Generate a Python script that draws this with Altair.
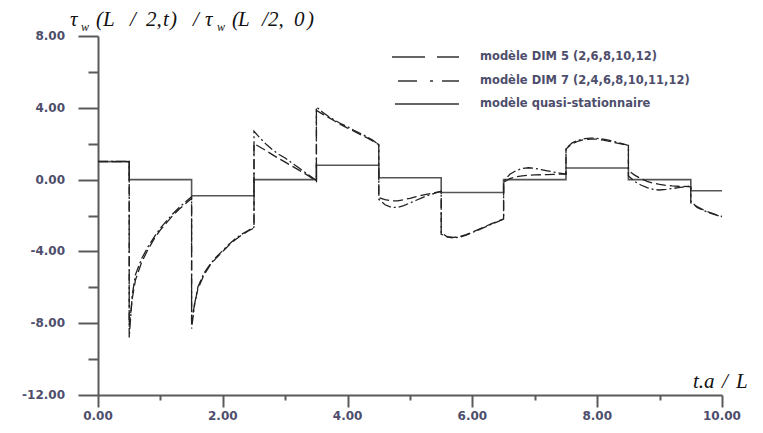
import altair as alt
import pandas as pd

# ---------------- data ----------------
t_dim = ([0.0, 0.5]
         + [0.5, 0.55, 0.6, 0.7, 0.8, 0.9, 1.0, 1.1, 1.2, 1.3, 1.4, 1.5]
         + [1.5, 1.55, 1.6, 1.7, 1.8, 1.9, 2.0, 2.1, 2.2, 2.3, 2.4, 2.5]
         + [2.5, 2.6, 2.7, 2.8, 2.9, 3.0, 3.1, 3.2, 3.3, 3.4, 3.5]
         + [3.5, 3.6, 3.7, 3.8, 3.9, 4.0, 4.1, 4.2, 4.3, 4.4, 4.5]
         + [4.5, 4.6, 4.7, 4.8, 4.9, 5.0, 5.1, 5.2, 5.3, 5.4, 5.5]
         + [5.5, 5.6, 5.7, 5.8, 5.9, 6.0, 6.1, 6.2, 6.3, 6.4, 6.5]
         + [6.5, 6.6, 6.7, 6.8, 6.9, 7.0, 7.1, 7.2, 7.3, 7.4, 7.5]
         + [7.5, 7.6, 7.7, 7.8, 7.9, 8.0, 8.1, 8.2, 8.3, 8.4, 8.5]
         + [8.5, 8.6, 8.7, 8.8, 8.9, 9.0, 9.1, 9.2, 9.3, 9.4, 9.5]
         + [9.5, 9.6, 9.7, 9.8, 9.9, 10.0])

dim5 = ([1.0, 1.0]
        + [-8.2, -6.6, -5.6, -4.6, -3.9, -3.3, -2.8, -2.4, -2.0, -1.65, -1.35, -1.05]
        + [-7.9, -6.9, -6.1, -5.3, -4.75, -4.35, -4.0, -3.65, -3.35, -3.1, -2.88, -2.7]
        + [2.0, 1.8, 1.6, 1.38, 1.17, 0.97, 0.77, 0.57, 0.37, 0.15, -0.1]
        + [3.85, 3.65, 3.45, 3.25, 3.05, 2.87, 2.7, 2.52, 2.35, 2.15, 1.95]
        + [-1.0, -1.12, -1.18, -1.18, -1.12, -1.04, -0.95, -0.87, -0.8, -0.72, -0.65]
        + [-3.05, -3.18, -3.22, -3.17, -3.07, -2.92, -2.77, -2.62, -2.47, -2.33, -2.2]
        + [-0.15, 0.05, 0.16, 0.21, 0.24, 0.26, 0.27, 0.28, 0.29, 0.3, 0.3]
        + [1.7, 2.0, 2.15, 2.23, 2.26, 2.25, 2.2, 2.13, 2.05, 1.97, 1.9]
        + [0.5, 0.25, 0.05, -0.1, -0.2, -0.27, -0.32, -0.35, -0.37, -0.38, -0.4]
        + [-1.3, -1.5, -1.68, -1.83, -1.95, -2.05])

dim7 = ([1.02, 1.02]
        + [-8.8, -6.4, -5.3, -4.4, -3.75, -3.2, -2.7, -2.3, -1.9, -1.55, -1.25, -0.95]
        + [-8.3, -6.9, -6.0, -5.2, -4.7, -4.3, -3.95, -3.6, -3.3, -3.05, -2.85, -2.65]
        + [2.7, 2.3, 1.95, 1.65, 1.4, 1.2, 0.95, 0.7, 0.45, 0.2, -0.05]
        + [4.05, 3.75, 3.5, 3.3, 3.1, 2.95, 2.75, 2.58, 2.4, 2.2, 1.95]
        + [-1.1, -1.4, -1.55, -1.55, -1.45, -1.3, -1.15, -1.0, -0.87, -0.75, -0.65]
        + [-2.95, -3.2, -3.25, -3.2, -3.1, -2.95, -2.8, -2.65, -2.5, -2.35, -2.2]
        + [-0.1, 0.3, 0.5, 0.62, 0.66, 0.63, 0.56, 0.49, 0.42, 0.36, 0.3]
        + [1.75, 2.05, 2.2, 2.28, 2.31, 2.3, 2.25, 2.18, 2.1, 2.0, 1.9]
        + [0.2, -0.1, -0.3, -0.45, -0.55, -0.58, -0.55, -0.5, -0.45, -0.4, -0.35]
        + [-1.2, -1.55, -1.72, -1.86, -1.97, -2.08])

t_quasi = [0.0, 0.5, 0.5, 1.5, 1.5, 2.5, 2.5, 3.5, 3.5, 4.5, 4.5,
           5.5, 5.5, 6.5, 6.5, 7.5, 7.5, 8.5, 8.5, 9.5, 9.5, 10.0]
quasi = [1.0, 1.0, 0.0, 0.0, -0.9, -0.9, 0.0, 0.0, 0.8, 0.8, 0.1,
         0.1, -0.72, -0.72, 0.0, 0.0, 0.65, 0.65, 0.0, 0.0, -0.62, -0.62]

legend_labels = ["modèle DIM 5 (2,6,8,10,12)",
                 "modèle DIM 7 (2,4,6,8,10,11,12)",
                 "modèle quasi-stationnaire"]

y_major = [-12, -8, -4, 0, 4, 8]
y_major_labels = ["-12.00", "-8.00", "-4.00", "0.00", "4.00", "8.00"]
y_minor = [-10, -6, -2, 2, 6]
x_major = [0, 2, 4, 6, 8, 10]
x_major_labels = ["0.00", "2.00", "4.00", "6.00", "8.00", "10.00"]
x_minor = [1, 3, 5, 7, 9]

# ---------------- styling ----------------
W, H = 624, 359
AXIS_COL = "#5a5a5a"
LAB_COL = "#4e4e6c"
LINE_COL = "#222222"
DASH5 = [10, 4]
DASH7 = [10, 3, 2, 3]

df5 = pd.DataFrame({"t": t_dim, "v": dim5, "i": list(range(len(t_dim)))})
df7 = pd.DataFrame({"t": t_dim, "v": dim7, "i": list(range(len(t_dim)))})
dfq = pd.DataFrame({"t": t_quasi, "v": quasi, "i": list(range(len(t_quasi)))})

xs = alt.Scale(domain=[0, 10], nice=False)
ys = alt.Scale(domain=[-12, 8], nice=False)


def tick_axis(vals, size, orient, domain):
    return alt.Axis(values=vals, labels=False, tickSize=size, domain=domain, orient=orient,
                    title=None, grid=False, tickColor=AXIS_COL, tickWidth=2,
                    domainColor=AXIS_COL, domainWidth=2)


quasi_line = alt.Chart(dfq).mark_line(color="#555555", strokeWidth=1.6).encode(
    x=alt.X("t:Q", scale=xs, axis=tick_axis(x_major, 12, "bottom", True)),
    y=alt.Y("v:Q", scale=ys, axis=tick_axis(y_major, 20, "left", True)),
    order="i:Q")
minor_ticks = alt.Chart(dfq).mark_line(opacity=0).encode(
    x=alt.X("t:Q", scale=xs, axis=tick_axis(x_minor, 5, "bottom", False)),
    y=alt.Y("v:Q", scale=ys, axis=tick_axis(y_minor, 10, "left", False)),
    order="i:Q")

# tick labels placed through the shared scales
y_lab = alt.Chart(pd.DataFrame({"v": y_major, "lab": y_major_labels})).mark_text(
    align="right", baseline="middle", font="DejaVu Sans", fontSize=12, fontWeight="bold",
    color=LAB_COL).encode(
    y=alt.Y("v:Q", scale=ys, axis=None), x=alt.value(-33), text="lab:N")
x_lab = alt.Chart(pd.DataFrame({"t": x_major, "lab": x_major_labels})).mark_text(
    align="center", baseline="top", font="DejaVu Sans", fontSize=12, fontWeight="bold",
    color=LAB_COL).encode(
    x=alt.X("t:Q", scale=xs, axis=None), y=alt.value(H + 16), text="lab:N")

line5 = alt.Chart(df5).mark_line(color=LINE_COL, strokeWidth=1.3, strokeDash=DASH5).encode(
    x=alt.X("t:Q", scale=xs, axis=None), y=alt.Y("v:Q", scale=ys, axis=None), order="i:Q")
line7 = alt.Chart(df7).mark_line(color=LINE_COL, strokeWidth=1.3, strokeDash=DASH7).encode(
    x=alt.X("t:Q", scale=xs, axis=None), y=alt.Y("v:Q", scale=ys, axis=None), order="i:Q")

layers = [quasi_line, minor_ticks, y_lab, x_lab, line5, line7]

# ---------------- legend (manual) ----------------
leg_rows = [21, 45, 68]
leg_dash = [[33, 12], [19, 13, 3, 9], [1, 0]]
leg_x0 = [294, 300, 297]
for lab, yy, dsh, x0 in zip(legend_labels, leg_rows, leg_dash, leg_x0):
    layers.append(alt.Chart().mark_rule(color="#333333", strokeWidth=1.5, strokeDash=dsh).encode(
        x=alt.value(x0), x2=alt.value(361), y=alt.value(yy)))
    layers.append(alt.Chart().mark_text(align="left", baseline="middle", font="DejaVu Sans",
                                        fontSize=11.5, fontWeight="bold", color=LAB_COL).encode(
        x=alt.value(382), y=alt.value(yy), text=alt.value(lab)))

# ---------------- axis titles as text tokens ----------------
title_tokens = [("τ", 70, 0), ("w", 81, 1), ("(", 96, 0), ("L", 103, 0), ("/", 130, 0),
                ("2,", 146, 0), ("t", 163, 0), (")", 170, 0), ("/", 193, 0), ("τ", 205, 0),
                ("w", 217, 1), ("(", 232, 0), ("L", 238, 0), ("/", 262, 0), ("2,", 268, 0),
                ("0", 294, 0), (")", 307, 0)]
for txt, px, sub in title_tokens:
    layers.append(alt.Chart().mark_text(align="left", baseline="alphabetic", font="Liberation Serif",
                                        fontStyle="italic", fontSize=12 if sub else 21,
                                        color="#111111").encode(
        x=alt.value(px - 98), y=alt.value(-5 if sub else -10), text=alt.value(txt)))

xt_tokens = [("t.a", 693), ("/", 722), ("L", 736)]
for txt, px in xt_tokens:
    layers.append(alt.Chart().mark_text(align="left", baseline="alphabetic", font="Liberation Serif",
                                        fontStyle="italic", fontSize=21, color="#111111").encode(
        x=alt.value(px - 98), y=alt.value(352), text=alt.value(txt)))

chart = alt.layer(*layers).resolve_axis(x="independent", y="independent").properties(
    width=W, height=H,
    autosize=alt.AutoSizeParams(type="none"),
    padding={"left": 90, "top": 28, "right": 33, "bottom": 30},
    background="white",
).configure_view(stroke=None)

chart.save("out.html", embed_options={"renderer": "svg", "actions": False})
